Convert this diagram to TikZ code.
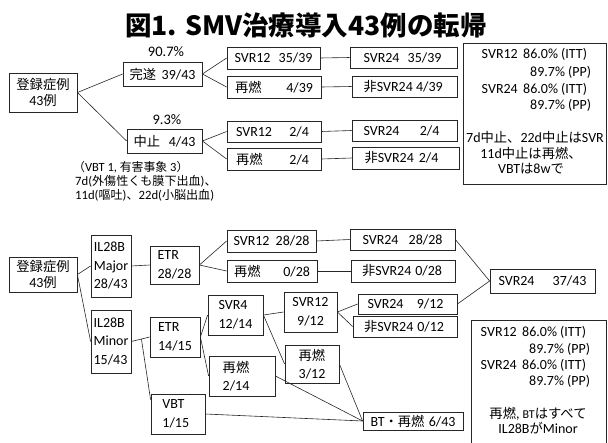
\documentclass[tikz,border=0pt]{standalone}
\usepackage{fontspec}
\setmainfont{Carlito}
\newfontfamily\JP[Scale=0.95]{Noto Sans CJK JP}
\newfontfamily\JT{Noto Sans CJK JP}
\newcommand\jp[1]{{\JP #1}}
\usetikzlibrary{calc}
\tikzset{
 bx/.style={draw=black!85, line width=0.8pt, inner sep=0pt, font=\fontsize{14}{16}\selectfont},
 ln/.style={draw=black!85, line width=0.6pt},
 lbl/.style={inner sep=0pt, font=\fontsize{14.5}{17}\selectfont},
 inf/.style={inner sep=0pt, anchor=west, font=\fontsize{14}{17}\selectfont, text height=10pt, text depth=3pt},
 infr/.style={inf, anchor=east},
 infc/.style={inner sep=0pt, font=\fontsize{14}{17}\selectfont, text height=10pt, text depth=3pt},
 note/.style={inner sep=0pt, anchor=west, font=\fontsize{12.7}{13}\selectfont, text height=9pt, text depth=3pt},
 multi/.style={align=left, font=\fontsize{14}{18.5}\selectfont},
}
\newcommand\Bx[7][]{\node[bx,minimum width={(#5-#3)*1pt},minimum height={(#6-#4)*1pt},#1] (#2) at ({(#3+#5)/2},{(#4+#6)/2}) {#7};}
\begin{document}
\begin{tikzpicture}[x=1pt,y=-1pt]
\useasboundingbox (0,0) rectangle (608,442);
% title
\node[inner sep=0pt, font=\fontsize{26.5}{30}\selectfont] (title) at (306,25) {\JT\bfseries 図1. SMV治療導入43例の転帰};

% ---------- top tree ----------
\Bx[align=center, font=\fontsize{14}{16}\selectfont]{t0}{9}{73}{77}{112}{\jp{登録症例}\\43\jp{例}}
\Bx{t1}{123}{62}{202}{86}{\hbox to 66pt{\jp{完遂}\hfill 39/43}}
\Bx{t2}{127}{129}{202}{153}{\hbox to 62pt{\jp{中止}\hfill 4/43}}
\node[lbl] (p1) at (166,52) {90.7\%};
\node[lbl] (p2) at (167,120) {9.3\%};

\Bx{b1}{227}{47}{320}{69}{\hbox to 78pt{SVR12\hfill 35/39}}
\Bx{b2}{227}{76}{321}{98}{\hbox to 78pt{\jp{再燃}\hfill 4/39}}
\Bx{b3}{227}{121}{321}{142}{\hbox to 76pt{SVR12\hfill 2/4\hspace{3pt}}}
\Bx{b4}{227}{148}{321}{170}{\hbox to 76pt{\jp{再燃}\hfill 2/4\hspace{3pt}}}

\Bx{c1}{350}{47}{457}{68}{\hbox to 80pt{SVR24\hfill 35/39\hspace{2pt}}}
\Bx{c2}{352}{76}{457}{97}{\hbox to 82pt{\jp{非}SVR24 4/39\hfill}}
\Bx{c3}{352}{120}{457}{141}{\hbox to 82pt{SVR24\hfill 2/4\hspace{6pt}}}
\Bx{c4}{352}{147}{459}{169}{\hbox to 82pt{\jp{非}SVR24\hspace{5pt}2/4\hfill}}

\draw[ln] (t0.east) -- (t1.west);
\draw[ln] (t0.east) -- (t2.west);
\draw[ln] (t1.east) -- (b1.west);
\draw[ln] (t1.east) -- (b2.west);
\draw[ln] (t2.east) -- (b3.west);
\draw[ln] (t2.east) -- (b4.west);
\draw[ln] (b1.east) -- (c1.west);
\draw[ln] (b2.east) -- (c2.west);
\draw[ln] (b3.east) -- (c3.west);
\draw[ln] (b4.east) -- (c4.west);

\node[note, font=\fontsize{12.5}{14}\selectfont] (n1) at (73,168) {\jp{（}VBT 1, \jp{有害事象} 3\jp{）}};
\node[note] (n2) at (75,182) {7d(\jp{外傷性くも膜下出血})\jp{、}};
\node[note] (n3) at (75,196) {11d(\jp{嘔吐})\jp{、}22d(\jp{小脳出血})};

% info box 1
\node[draw=black!85, line width=0.8pt, minimum width=143pt, minimum height=141pt, inner sep=0pt] (info1) at (534.5,113.5) {};
\node[infr] (i1a) at (518,55) {SVR12};
\node[inf] (i1b) at (523,55) {86.0\% (ITT)};
\node[inf] (i1c) at (530,73) {89.7\% (PP)};
\node[infr] (i1d) at (518,90) {SVR24};
\node[inf] (i1e) at (523,90) {86.0\% (ITT)};
\node[inf] (i1f) at (530,106) {89.7\% (PP)};
\node[infc] (i1g) at (535,139) {7d\jp{中止、}22d\jp{中止は}SVR};
\node[infc] (i1h) at (531,155) {11d\jp{中止は再燃、}};
\node[infc] (i1i) at (531,170) {VBT\jp{は}8w\jp{で}};

% ---------- bottom tree ----------
\Bx[align=center, font=\fontsize{14}{16}\selectfont]{d0}{9}{257}{77}{292}{\jp{登録症例}\\43\jp{例}}
\Bx[multi]{d1}{91}{235}{131}{297}{IL28B\\Major\\28/43}
\Bx[multi]{d2}{91}{310}{131}{373}{IL28B\\Minor\\15/43}
\Bx[multi]{e1}{150}{246}{199}{284}{ETR\\28/28}
\Bx[multi]{e2}{150}{317}{200}{357}{ETR\\14/15}
\Bx[multi]{e3}{151}{394}{205}{434}{VBT\hspace{9pt}\null\\1/15}
\Bx{f1}{227}{230}{316}{252}{\hbox to 76pt{SVR12\hfill 28/28}}
\Bx{f2}{227}{260}{317}{282}{\hbox to 76pt{\jp{再燃}\hfill 0/28}}
\Bx[multi]{f3}{208}{295}{263}{335}{SVR4\\12/14}
\Bx[multi]{f4}{209}{356}{275}{396}{\jp{再燃}\hspace{12pt}\null\\2/14}
\Bx[align=center, font=\fontsize{14}{18.5}\selectfont]{g3}{284}{292}{337}{332}{SVR12\\9/12}
\Bx[multi]{g4}{285}{345}{339}{383}{\jp{再燃}\\3/12}
\Bx{g1}{350}{229}{455}{250}{\hbox to 80pt{SVR24\hfill 28/28}}
\Bx{g2}{351}{260}{455}{282}{\hbox to 82pt{\jp{非}SVR24\hspace{4pt}0/28\hfill}}
\Bx{h1}{358}{294}{457}{314}{\hbox to 80pt{SVR24\hfill 9/12\hspace{4pt}}}
\Bx{h2}{353}{316}{457}{337}{\hbox to 82pt{\jp{非}SVR24\hspace{4pt}0/12\hfill}}
\Bx{k1}{490}{269}{595}{293}{\hbox to 88pt{SVR24\hfill 37/43}}
\Bx{k2}{363}{412}{463}{430}{\hbox to 85pt{BT\jp{・再燃}\hfill 6/43}}

\coordinate (sp) at ($(d2.east)!0.55!(e2.west)$);
\coordinate (vb) at ($(e3.north west)!0.15!(e3.south west)$);
\draw[ln] (d0.east) -- (d1.west);
\draw[ln] (d0.east) -- (d2.west);
\draw[ln] (d1.east) -- (e1.west);
\draw[ln] (d2.east) -- (e2.west);
\draw[ln] (sp) -- (vb);
\draw[ln] (e1.east) -- (f1.west);
\draw[ln] (e1.east) -- (f2.west);
\draw[ln] (f1.east) -- (g1.west);
\draw[ln] (f2.east) -- (g2.west);
\draw[ln] (e2.east) -- (f3.west);
\draw[ln] (e2.east) -- (f4.west);
\draw[ln] (f3.east) -- (g3.west);
\draw[ln] (f3.east) -- (g4.west);
\draw[ln] (g3.east) -- (h1.west);
\draw[ln] (g3.east) -- (h2.west);
\draw[ln] (g1.east) -- (k1.west);
\draw[ln] (h1.east) -- (k1.west);
\draw[ln] (f4.east) -- (k2.west);
\draw[ln] (e3.east) -- (k2.west);
\draw[ln] (g4.east) -- (k2.west);

% info box 2 (open at the page bottom)
\coordinate (q1) at (471,450);
\coordinate (q2) at (471,320);
\coordinate (q3) at (606,320);
\coordinate (q4) at (606,450);
\draw[draw=black!85, line width=0.8pt] (q1) -- (q2) -- (q3) -- (q4);
\node[infr] (i2a) at (517,333) {SVR12};
\node[inf] (i2b) at (522,333) {86.0\% (ITT)};
\node[inf] (i2c) at (529,350) {89.7\% (PP)};
\node[infr] (i2d) at (517,366) {SVR24};
\node[inf] (i2e) at (522,366) {86.0\% (ITT)};
\node[inf] (i2f) at (529,382) {89.7\% (PP)};
\node[infc] (i2g) at (538,415) {\jp{再燃}, {\fontsize{12}{14}\selectfont BT}\jp{はすべて}};
\node[infc] (i2h) at (538,430) {IL28B\jp{が}Minor};
\end{tikzpicture}
\end{document}
